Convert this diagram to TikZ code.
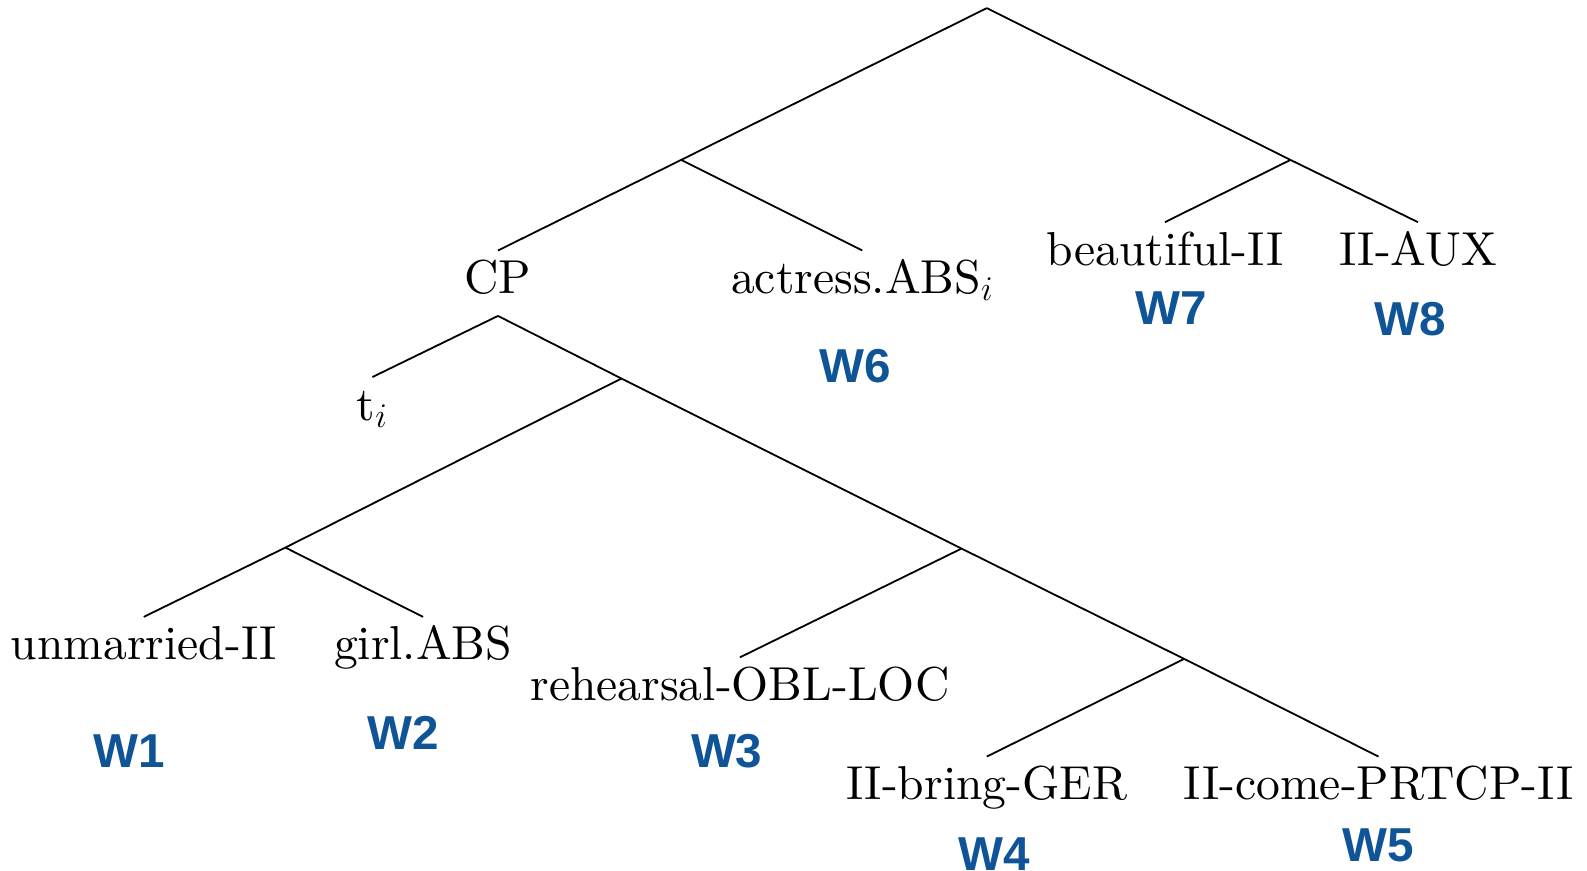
\documentclass[tikz,border=0pt]{standalone}
\usepackage{fontspec}
\newfontfamily\wfont{Liberation Sans}
\newfontfamily\lmten{lmroman10-regular}[Extension=.otf]
\definecolor{wblue}{RGB}{16,84,152}
\begin{document}
\begin{tikzpicture}[x=0.506pt,y=-0.506pt,
  lab/.style={font=\lmten\fontsize{23.8}{28}\selectfont, anchor=base, text height=16.3pt, text depth=6pt, inner xsep=0pt, inner ysep=5pt},
  wlab/.style={font=\wfont\bfseries\fontsize{23.8}{28}\selectfont, text=wblue, anchor=base, inner sep=0pt},
  edge/.style={line width=0.9pt, black}]
\useasboundingbox (0,0) rectangle (1568,860);
% word nodes
\node[lab] (cp) at (492,290) {CP};
\node[lab] (actress) at (852,290) {actress.ABS$_i$};
\node[lab] (beaut) at (1151,262) {beautiful-II};
\node[lab] (aux) at (1401,262) {II-AUX};
\node[lab] (ti) at (368,415) {t$_i$};
\node[lab] (unm) at (142,652) {unmarried-II};
\node[lab] (girl) at (418,652) {girl.ABS};
\node[lab] (reh) at (731,692) {rehearsal-OBL-LOC};
\node[lab] (bring) at (975,790) {II-bring-GER};
\node[lab] (come) at (1362,790) {II-come-PRTCP-II};
% junctions
\coordinate (root) at (975,8);
\coordinate (x1) at (673,158);
\coordinate (x2) at (1275,158);
\coordinate (x3) at (614,374);
\coordinate (x4) at (282,541);
\coordinate (x5) at (950,542);
\coordinate (x6) at (1170,651);
% edges
\draw[edge] (root) -- (x1);
\draw[edge] (x1) -- (cp.north);
\draw[edge] (x1) -- (actress.north);
\draw[edge] (root) -- (x2);
\draw[edge] (x2) -- (beaut.north);
\draw[edge] (x2) -- (aux.north);
\draw[edge] (cp.south) -- (ti.north);
\draw[edge] (cp.south) -- (x3);
\draw[edge] (x3) -- (x4);
\draw[edge] (x4) -- (unm.north);
\draw[edge] (x4) -- (girl.north);
\draw[edge] (x3) -- (x5);
\draw[edge] (x5) -- (reh.north);
\draw[edge] (x5) -- (x6);
\draw[edge] (x6) -- (bring.north);
\draw[edge] (x6) -- (come.north);
% W labels
\node[wlab] (w1) at (128,758) {W1};
\node[wlab] (w2) at (398,741) {W2};
\node[wlab] (w3) at (718,758) {W3};
\node[wlab] (w4) at (982,860) {W4};
\node[wlab] (w5) at (1362,851) {W5};
\node[wlab] (w6) at (845,378) {W6};
\node[wlab] (w7) at (1157,321) {W7};
\node[wlab] (w8) at (1393,331) {W8};
\end{tikzpicture}
\end{document}
